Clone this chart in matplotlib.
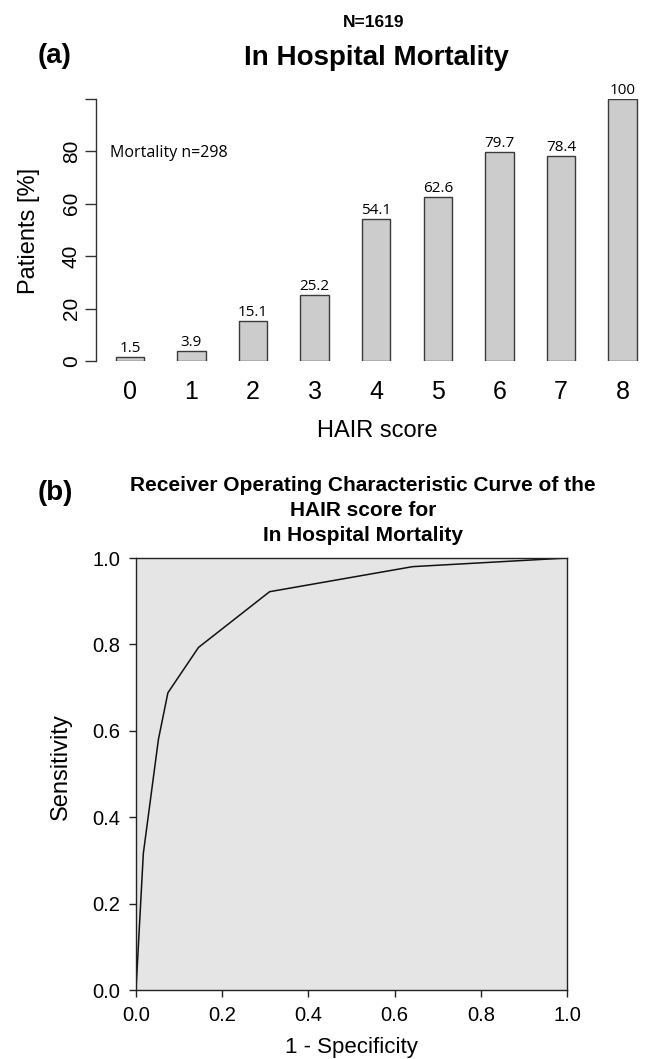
import matplotlib
matplotlib.use("Agg")
import matplotlib.pyplot as plt

# HAIR score vs in-hospital mortality (%)
scores = [0, 1, 2, 3, 4, 5, 6, 7, 8]
mortality = [1.5, 3.9, 15.1, 25.2, 54.1, 62.6, 79.7, 78.4, 100]

# ROC curve points
fpr = [0.0, 0.017, 0.052, 0.074, 0.145, 0.31, 0.642, 1.0]
sens = [0.0, 0.316, 0.58, 0.688, 0.793, 0.922, 0.98, 1.0]

W, H = 647, 1059


def fx(x):
    return x / W


def fy(y):
    return 1 - y / H


plt.rcParams['font.family'] = ['Liberation Sans', 'DejaVu Sans']

fig = plt.figure(figsize=(W / 100, H / 100), dpi=100)

# ---- (a) bar chart
ax1 = fig.add_axes([fx(96), fy(361), 545 / W, 262 / H])
ax1.bar(scores, mortality, width=0.46, color='#cbcccb', edgecolor='#3a3a3a', linewidth=1.0)
ax1.set_xlim(-0.55, 8.3)
ax1.set_ylim(0, 100)
for s in ['top', 'right', 'bottom']:
    ax1.spines[s].set_visible(False)
ax1.spines['left'].set_color('#333333')
ax1.spines['left'].set_linewidth(1.0)

ax1.set_yticks([0, 20, 40, 60, 80, 100])
ax1.set_yticklabels(['0', '20', '40', '60', '80', ''], rotation=90, va='center', fontsize=15)
ax1.tick_params(axis='y', length=8, width=1, pad=3, color='#333333')
ax1.set_xticks(scores)
ax1.set_xticklabels([str(s) for s in scores], fontsize=18)
ax1.tick_params(axis='x', length=0, pad=14)

for x, v in zip(scores, mortality):
    ax1.annotate(f'{v:g}', (x, v), xytext=(0, 3.6), textcoords='offset points',
                 ha='center', va='baseline', fontsize=11, family='Open Sans',
                 annotation_clip=False)
ax1.text(-0.32, 78, 'Mortality n=298', fontsize=11.5, family='Open Sans', va='baseline')

fig.text(fx(374), fy(27), 'N=1619', ha='center', va='baseline', fontsize=12.5, weight='bold')
fig.text(fx(376), fy(65), 'In Hospital Mortality', ha='center', va='baseline', fontsize=20, weight='bold')
fig.text(fx(55), fy(63), '(a)', ha='center', va='baseline', fontsize=20, weight='bold')
fig.text(fx(377), fy(437), 'HAIR score', ha='center', va='baseline', fontsize=17)
fig.text(fx(29), fy(231), 'Patients [%]', ha='center', va='center', rotation=90, fontsize=17)

# ---- (b) ROC curve
ax2 = fig.add_axes([fx(136), fy(990), 431 / W, 432 / H])
ax2.set_facecolor('#e4e5e4')
ax2.plot(fpr, sens, color='#111111', linewidth=1.1)
ax2.set_xlim(0, 1)
ax2.set_ylim(0, 1)
ticks = [0.0, 0.2, 0.4, 0.6, 0.8, 1.0]
ax2.set_xticks(ticks)
ax2.set_yticks(ticks)
ax2.set_xticklabels([f'{t:.1f}' for t in ticks])
ax2.set_yticklabels([f'{t:.1f}' for t in ticks])
ax2.tick_params(length=5, width=1, pad=6.5, labelsize=14.5, color='#222222')
for s in ax2.spines.values():
    s.set_color('#222222')
    s.set_linewidth(1.0)

title_lines = ['Receiver Operating Characteristic Curve of the', 'HAIR score for', 'In Hospital Mortality']
for y, line in zip([491, 516, 541], title_lines):
    fig.text(fx(363), fy(y), line, ha='center', va='baseline', fontsize=15, weight='bold')
fig.text(fx(55), fy(500), '(b)', ha='center', va='baseline', fontsize=20, weight='bold')
fig.text(fx(351), fy(1053), '1 - Specificity', ha='center', va='baseline', fontsize=16)
fig.text(fx(61), fy(767), 'Sensitivity', ha='center', va='center', rotation=90, fontsize=17)

fig.savefig('out.png', dpi=100)
